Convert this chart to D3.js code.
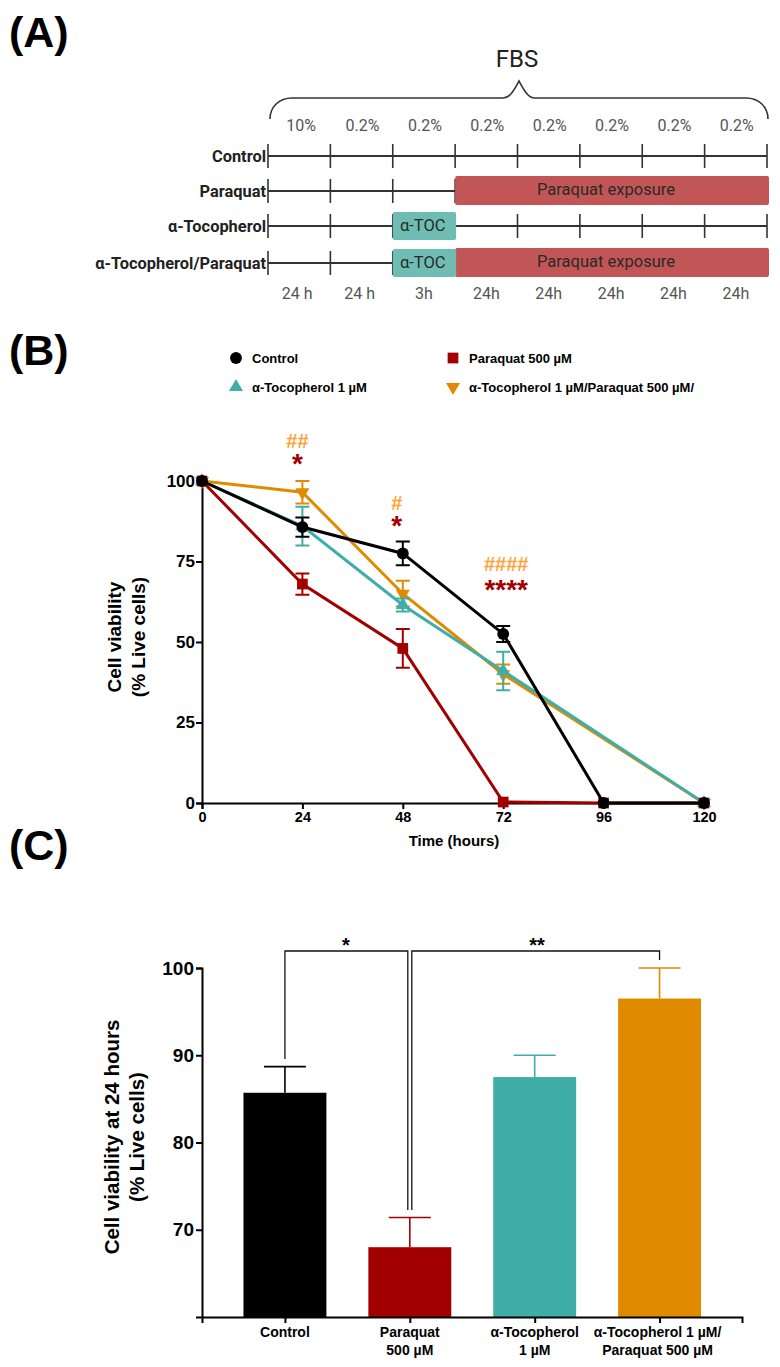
<!DOCTYPE html>
<html>
<head>
<meta charset="utf-8">
<script src="https://cdn.jsdelivr.net/npm/d3@7"></script>
<style>
html, body { margin: 0; padding: 0; background: #fff; }
svg { display: block; }
text { font-family: "Liberation Sans", Arial, sans-serif; fill: #000; }
.sch { font-family: Roboto, sans-serif; }
</style>
</head>
<body>
<div id="chart"></div>
<script>
// panel A schedule
var fbsLabels = ["10%", "0.2%", "0.2%", "0.2%", "0.2%", "0.2%", "0.2%", "0.2%"];
var durationLabels = ["24 h", "24 h", "3h", "24h", "24h", "24h", "24h", "24h"];
var scheduleRows = ["Control", "Paraquat", "α-Tocopherol", "α-Tocopherol/Paraquat"];
var tocBlocks = [[2, 2, 3], [3, 2, 3]];
var paraquatBlocks = [[1, 3, 8], [3, 3, 8]];

// panel B time course
var hours = [0, 24, 48, 72, 96, 120];
var controlMean = [100, 85.7, 77.5, 52.5, 0, 0];
var controlErr = [0, 3, 3.7, 2.5, 0, 0];
var paraquatMean = [100, 68, 48, 0.3, 0, 0];
var paraquatErr = [0, 3.3, 6, 0, 0, 0];
var tocMean = [100, 86, 61.5, 41, null, 0];
var tocErr = [0, 6, 2, 6, 0, 0];
var tocParaMean = [100, 96.5, 65, 40, null, 0];
var tocParaErr = [0, 3.5, 4, 3, 0, 0];
var viabilityTicks = [0, 25, 50, 75, 100];

// panel C viability at 24 h
var barLabels = [["Control"], ["Paraquat", "500 µM"], ["α-Tocopherol", "1 µM"], ["α-Tocopherol 1 µM/", "Paraquat 500 µM"]];
var barMeans = [85.7, 68, 87.5, 96.5];
var barErrs = [3, 3.4, 2.5, 3.5];
var barTicks = [70, 80, 90, 100];

var black = "#000000", red = "#a20000", teal = "#3fada8", orange = "#e08a00", lightOrange = "#ffa237";

var svg = d3.select("#chart").append("svg").attr("width", 780).attr("height", 1367);

var panelLetter = function (label, y) {
    svg.append("text").attr("x", 9).attr("y", y)
        .attr("font-size", 43).attr("font-weight", "bold").text(label);
};
panelLetter("(A)", 47);
panelLetter("(B)", 365);
panelLetter("(C)", 860);

//panel A
var a = svg.append("g");
var stepX = d3.scaleLinear().domain([0, 8]).range([268, 767]);
var rowY = d3.scaleOrdinal().domain(scheduleRows).range([156, 191, 226, 263]);
var lineColor = "#333333";

a.append("text").attr("class", "sch").attr("x", 517).attr("y", 67)
    .attr("text-anchor", "middle").attr("font-size", 24).attr("style", "fill:#222").text("FBS");
a.append("path")
    .attr("d", "M270 119 C270 107 279 98 292 98 L503 98 C510 98 514 90 519 81 C524 90 528 98 535 98 L746 98 C759 98 768 107 768 119")
    .attr("fill", "none").attr("stroke", "#333").attr("stroke-width", 1.6);

a.selectAll(".fbs").data(fbsLabels).enter().append("text")
    .attr("class", "sch")
    .attr("x", function (d, i) { return stepX(i + 0.5) + (i == 0 ? 2 : 1); })
    .attr("y", 131).attr("text-anchor", "middle").attr("font-size", 16)
    .attr("style", "fill:#555").text(function (d) { return d; });
a.selectAll(".dur").data(durationLabels).enter().append("text")
    .attr("class", "sch")
    .attr("x", function (d, i) { return stepX(i + 0.5) - (i < 2 ? 2 : 0); })
    .attr("y", 299).attr("text-anchor", "middle").attr("font-size", 16)
    .attr("style", "fill:#555").text(function (d) { return d; });

scheduleRows.forEach(function (row, r) {
    var y = rowY(row);
    a.append("line").attr("x1", stepX(0)).attr("x2", stepX(8)).attr("y1", y).attr("y2", y)
        .attr("stroke", lineColor).attr("stroke-width", 1.8);
    d3.range(0, 9).forEach(function (i) {
        a.append("line").attr("x1", stepX(i)).attr("x2", stepX(i)).attr("y1", y - 12).attr("y2", y + 12)
            .attr("stroke", lineColor).attr("stroke-width", 1.6);
    });
    a.append("text").attr("class", "sch").attr("x", 266).attr("y", y + 6)
        .attr("text-anchor", "end").attr("font-size", 16.4).attr("font-weight", "bold")
        .attr("style", "fill:#222").text(row);
});

paraquatBlocks.forEach(function (b) {
    var y = rowY(scheduleRows[b[0]]);
    a.append("rect").attr("x", stepX(b[1])).attr("width", stepX(b[2]) - stepX(b[1]) + 2)
        .attr("y", y - 15).attr("height", 29).attr("rx", 2).attr("fill", "#c25656");
    a.append("text").attr("class", "sch").attr("x", 606).attr("y", y + 4)
        .attr("text-anchor", "middle").attr("font-size", 16.5).attr("style", "fill:#2a2a2a").text("Paraquat exposure");
});
tocBlocks.forEach(function (b) {
    var y = rowY(scheduleRows[b[0]]);
    a.append("rect").attr("x", stepX(b[1])).attr("width", stepX(b[2]) - stepX(b[1]) + 1)
        .attr("y", y - 14).attr("height", 28).attr("rx", 2).attr("fill", "#6fbdb2");
    a.append("text").attr("class", "sch").attr("x", stepX(b[1]) + 30).attr("y", y + 5)
        .attr("text-anchor", "middle").attr("font-size", 16.5).attr("style", "fill:#2a2a2a").text("α-TOC");
});

//panel B
var b = svg.append("g");
var x = d3.scaleLinear().domain([0, 120]).range([202, 704]);
var y = d3.scaleLinear().domain([0, 100]).range([803, 481]);

var series = [
    { name: "α-Tocopherol 1 µM/Paraquat 500 µM/", mean: tocParaMean, err: tocParaErr, color: orange, sym: d3.symbolTriangle, flip: true, lx: 453, ly: 387 },
    { name: "α-Tocopherol 1 µM", mean: tocMean, err: tocErr, color: teal, sym: d3.symbolTriangle, flip: false, lx: 236, ly: 387 },
    { name: "Paraquat 500 µM", mean: paraquatMean, err: paraquatErr, color: red, sym: d3.symbolSquare, flip: false, lx: 453, ly: 358 },
    { name: "Control", mean: controlMean, err: controlErr, color: black, sym: d3.symbolCircle, flip: false, lx: 236, ly: 358 }
];
var symbolSize = function (s) {
    return s.sym == d3.symbolCircle ? 110 : (s.sym == d3.symbolSquare ? 115 : 85);
};

series.forEach(function (s) {
    var path = d3.symbol().type(s.sym).size(symbolSize(s))();
    b.append("path").attr("d", path)
        .attr("transform", "translate(" + s.lx + "," + s.ly + ")" + (s.flip ? " scale(1,-1)" : ""))
        .attr("fill", s.color);
    b.append("text").attr("x", s.lx + 16).attr("y", s.ly + 5)
        .attr("font-size", 13).attr("font-weight", "bold").text(s.name);
});

var xAxis = d3.axisBottom(x).tickValues(hours).tickSize(6).tickPadding(3);
var yAxis = d3.axisLeft(y).tickValues(viabilityTicks).tickSize(6).tickPadding(1);
var gx = b.append("g").attr("transform", "translate(0,803)").call(xAxis);
var gy = b.append("g").attr("transform", "translate(202,0)").call(yAxis);
[gx, gy].forEach(function (g) {
    g.selectAll("path.domain").attr("stroke-width", 2).attr("stroke", "#000");
    g.selectAll("line").attr("stroke-width", 2).attr("stroke", "#000");
    g.selectAll("text").attr("font-family", "'Liberation Sans', Arial, sans-serif").attr("font-weight", "bold");
});
gx.selectAll("text").attr("font-size", 14.5);
gy.selectAll("text").attr("font-size", 17);

b.append("text").attr("x", 454).attr("y", 846).attr("text-anchor", "middle")
    .attr("font-size", 15).attr("font-weight", "bold").text("Time (hours)");
b.append("text").attr("transform", "translate(121,637) rotate(-90)").attr("text-anchor", "middle")
    .attr("font-size", 19).attr("font-weight", "bold").text("Cell viability");
b.append("text").attr("transform", "translate(145,637) rotate(-90)").attr("text-anchor", "middle")
    .attr("font-size", 19).attr("font-weight", "bold").text("(% Live cells)");

var line = d3.line()
    .defined(function (d) { return d.m !== null; })
    .x(function (d) { return x(d.h); })
    .y(function (d) { return y(d.m); });

series.forEach(function (s) {
    var pts = hours.map(function (h, i) { return { h: h, m: s.mean[i], e: s.err[i] }; });
    var shown = pts.filter(function (d) { return d.m !== null; });
    var sg = b.append("g");
    sg.append("path").attr("d", line(shown)).attr("fill", "none").attr("stroke", s.color).attr("stroke-width", 3);
    shown.filter(function (d) { return d.e > 0; }).forEach(function (d) {
        var cx = x(d.h), hi = y(d.m + d.e), lo = y(d.m - d.e);
        sg.append("path").attr("d", "M" + cx + " " + hi + "V" + lo + "M" + (cx - 7) + " " + hi + "H" + (cx + 7) + "M" + (cx - 7) + " " + lo + "H" + (cx + 7))
            .attr("fill", "none").attr("stroke", s.color).attr("stroke-width", 2);
    });
    sg.selectAll(".pt").data(shown).enter().append("path")
        .attr("d", d3.symbol().type(s.sym).size(symbolSize(s))())
        .attr("transform", function (d) {
            return "translate(" + x(d.h) + "," + y(d.m) + ")" + (s.flip ? " scale(1,-1)" : "");
        })
        .attr("fill", s.color);
});

var marks = [
    { h: 24, hash: "##", star: "*" },
    { h: 48, hash: "#", star: "*" },
    { h: 72, hash: "####", star: "****" }
];
var markY = { 24: [448, 473], 48: [510, 535], 72: [571, 599] };
var markShift = { 24: -5, 48: -6, 72: 3 };
marks.forEach(function (m) {
    b.append("text").attr("x", x(m.h) + markShift[m.h]).attr("y", markY[m.h][0]).attr("text-anchor", "middle")
        .attr("font-size", 20).attr("font-weight", "bold").attr("style", "fill:" + lightOrange).text(m.hash);
    b.append("text").attr("x", x(m.h) + markShift[m.h]).attr("y", markY[m.h][1]).attr("text-anchor", "middle")
        .attr("font-size", 28).attr("font-weight", "bold").attr("style", "fill:" + red).text(m.star);
});

//panel C
var c = svg.append("g");
var xBar = d3.scaleBand().domain(d3.range(barMeans.length)).range([222.5, 722]).paddingInner(0.336).paddingOuter(0.168);
var yBar = d3.scaleLinear().domain([60, 100]).range([1317, 968]);
var barColors = [black, red, teal, orange];
var barCx = function (i) { return xBar(i) + xBar.bandwidth() / 2; };

c.selectAll(".bar").data(barMeans).enter().append("rect")
    .attr("x", function (d, i) { return xBar(i); })
    .attr("width", xBar.bandwidth())
    .attr("y", function (d) { return yBar(d); })
    .attr("height", function (d) { return yBar(60) - yBar(d); })
    .attr("fill", function (d, i) { return barColors[i]; });

barMeans.forEach(function (d, i) {
    var cx = barCx(i), top = yBar(d + barErrs[i]);
    c.append("path").attr("d", "M" + cx + " " + yBar(d) + "V" + top + "M" + (cx - 21) + " " + top + "H" + (cx + 21))
        .attr("fill", "none").attr("stroke", barColors[i]).attr("stroke-width", 1.6);
});

var gyBar = c.append("g").attr("transform", "translate(202,0)")
    .call(d3.axisLeft(yBar).tickValues(barTicks).tickSize(6).tickPadding(2));
var gxBar = c.append("g").attr("transform", "translate(0,1317)")
    .call(d3.axisBottom(d3.scaleLinear().domain([202, 742]).range([202, 742])).tickValues(barMeans.map(function (d, i) { return barCx(i); })).tickSize(6).tickFormat(""));
[gyBar, gxBar].forEach(function (g) {
    g.selectAll("path.domain").attr("stroke-width", 2).attr("stroke", "#000");
    g.selectAll("line").attr("stroke-width", 2).attr("stroke", "#000");
    g.selectAll("text").attr("font-family", "'Liberation Sans', Arial, sans-serif").attr("font-weight", "bold");
});
gyBar.selectAll("text").attr("font-size", 19);

barLabels.forEach(function (lines, i) {
    lines.forEach(function (t, k) {
        c.append("text").attr("x", barCx(i) - (i == 3 ? 2 : 0)).attr("y", 1337 + k * 17.5)
            .attr("text-anchor", "middle").attr("font-size", 14).attr("font-weight", "bold").text(t);
    });
});

c.append("text").attr("transform", "translate(119,1137) rotate(-90)").attr("text-anchor", "middle")
    .attr("font-size", 20.5).attr("font-weight", "bold").text("Cell viability at 24 hours");
c.append("text").attr("transform", "translate(144,1137) rotate(-90)").attr("text-anchor", "middle")
    .attr("font-size", 20.5).attr("font-weight", "bold").text("(% Live cells)");

// significance brackets
var drawBracket = function (x1, y1, x2, y2, star, starX) {
    c.append("path").attr("d", "M" + x1 + " " + y1 + "V951H" + x2 + "V" + y2)
        .attr("fill", "none").attr("stroke", "#111").attr("stroke-width", 1.3);
    c.append("text").attr("x", starX).attr("y", 952).attr("text-anchor", "middle")
        .attr("font-size", 20).attr("font-weight", "bold").text(star);
};
drawBracket(barCx(0), 1059, barCx(1) - 2, 1210, "*", 346);
drawBracket(barCx(1) + 2, 1210, barCx(3), 960, "**", 537);
</script>
</body>
</html>
